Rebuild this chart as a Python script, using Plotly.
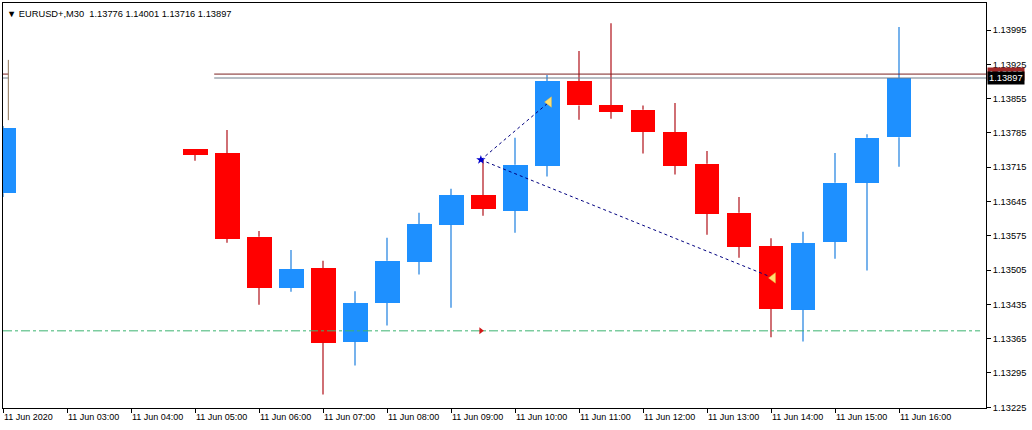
import plotly.graph_objects as go
from datetime import datetime, timedelta

# ---------------- data ----------------
TIMES = ["2020-06-11 02:00", "2020-06-11 05:00", "2020-06-11 05:30", "2020-06-11 06:00",
         "2020-06-11 06:30", "2020-06-11 07:00", "2020-06-11 07:30", "2020-06-11 08:00",
         "2020-06-11 08:30", "2020-06-11 09:00", "2020-06-11 09:30", "2020-06-11 10:00",
         "2020-06-11 10:30", "2020-06-11 11:00", "2020-06-11 11:30", "2020-06-11 12:00",
         "2020-06-11 12:30", "2020-06-11 13:00", "2020-06-11 13:30", "2020-06-11 14:00",
         "2020-06-11 14:30", "2020-06-11 15:00", "2020-06-11 15:30", "2020-06-11 16:00"]
OPEN = [1.13662, 1.13752, 1.13743, 1.13573, 1.13469, 1.13509, 1.13359, 1.13438,
        1.13522, 1.13598, 1.13658, 1.13626, 1.13718, 1.13891, 1.13842, 1.13832,
        1.13787, 1.13722, 1.13622, 1.13554, 1.13424, 1.13563, 1.13683, 1.13776]
HIGH = [1.13799, 1.13752, 1.13791, 1.13585, 1.13546, 1.13524, 1.13462, 1.13571,
        1.13622, 1.13671, 1.13730, 1.13775, 1.13903, 1.13952, 1.14009, 1.13841,
        1.13846, 1.13748, 1.13654, 1.13570, 1.13583, 1.13744, 1.13782, 1.14001]
LOW = [1.13654, 1.13728, 1.13561, 1.13434, 1.13461, 1.13251, 1.13310, 1.13392,
       1.13496, 1.13428, 1.13616, 1.13581, 1.13696, 1.13812, 1.13814, 1.13743,
       1.13700, 1.13577, 1.13530, 1.13368, 1.13359, 1.13528, 1.13504, 1.13716]
CLOSE = [1.13795, 1.13740, 1.13569, 1.13469, 1.13507, 1.13357, 1.13438, 1.13524,
         1.13599, 1.13658, 1.13630, 1.13720, 1.13891, 1.13841, 1.13828, 1.13787,
         1.13718, 1.13620, 1.13553, 1.13426, 1.13560, 1.13683, 1.13775, 1.13897]

TICK_TIMES = ["2020-06-11 02:00", "2020-06-11 03:00", "2020-06-11 04:00", "2020-06-11 05:00",
              "2020-06-11 06:00", "2020-06-11 07:00", "2020-06-11 08:00", "2020-06-11 09:00",
              "2020-06-11 10:00", "2020-06-11 11:00", "2020-06-11 12:00", "2020-06-11 13:00",
              "2020-06-11 14:00", "2020-06-11 15:00", "2020-06-11 16:00"]
TICK_TEXT = ["11 Jun 2020", "11 Jun 03:00", "11 Jun 04:00", "11 Jun 05:00", "11 Jun 06:00",
             "11 Jun 07:00", "11 Jun 08:00", "11 Jun 09:00", "11 Jun 10:00", "11 Jun 11:00",
             "11 Jun 12:00", "11 Jun 13:00", "11 Jun 14:00", "11 Jun 15:00", "11 Jun 16:00"]
PRICE_TICKS = [1.13225, 1.13295, 1.13365, 1.13435, 1.13505, 1.13575, 1.13645,
               1.13715, 1.13785, 1.13855, 1.13925, 1.13995]

BID = 1.13897
ASK = 1.13905
SUPPORT = 1.13381
PIVOT_TIME = "2020-06-11 09:28"
PIVOT_PRICE = 1.13730
TRI_TIMES = ["2020-06-11 10:32", "2020-06-11 14:02"]
TRI_PRICES = [1.13848, 1.13489]
HEADER = "EURUSD+,M30  1.13776 1.14001 1.13716 1.13897"

X_START = "2020-06-11 02:00"
X_END = "2020-06-11 17:21:34"
LINE_START = "2020-06-11 05:18"
Y_MIN, Y_MAX = 1.132235, 1.140501

# ---------------- styles ----------------
BULL = "#1E90FF"
BEAR = "#FF0000"
BULL_WICK = "#1C7FE0"
BEAR_WICK = "#B01018"
BODY_MS = 1_406_000  # body width in ms (25/32 of 30 min)
FONT = "Liberation Sans, Arial, sans-serif"

fig = go.Figure()

# wicks (split into upper/lower so they do not draw over bodies)
def wick_xy(filter_bull):
    xs, ys = [], []
    for t, o, h, l, c in zip(TIMES, OPEN, HIGH, LOW, CLOSE):
        if (c >= o) != filter_bull:
            continue
        top, bot = max(o, c), min(o, c)
        if h > top:
            xs += [t, t, None]; ys += [top, h, None]
        if l < bot:
            xs += [t, t, None]; ys += [bot, l, None]
    return xs, ys

for bull, col in ((True, BULL_WICK), (False, BEAR_WICK)):
    wx, wy = wick_xy(bull)
    fig.add_trace(go.Scatter(x=wx, y=wy, mode="lines", line=dict(color=col, width=1.2),
                             hoverinfo="skip", showlegend=False))

# bodies
for bull, col in ((True, BULL), (False, BEAR)):
    bx, bb, bh = [], [], []
    for t, o, c in zip(TIMES, OPEN, CLOSE):
        if (c >= o) != bull:
            continue
        bx.append(t); bb.append(min(o, c)); bh.append(abs(c - o))
    fig.add_trace(go.Bar(x=bx, y=bh, base=bb, width=BODY_MS, marker=dict(color=col, line=dict(width=0)),
                         hoverinfo="skip", showlegend=False))

# horizontal price lines
t0 = datetime.strptime(X_START, "%Y-%m-%d %H:%M")
left_seg_end = (t0 + timedelta(minutes=5)).strftime("%Y-%m-%d %H:%M")
for price, col in ((ASK, "#7A2222"), (BID, "#6F7D8A")):
    fig.add_trace(go.Scatter(x=[X_START, left_seg_end, None, LINE_START, X_END],
                             y=[price, price, None, price, price], mode="lines",
                             line=dict(color=col, width=1), hoverinfo="skip", showlegend=False))

# left edge remnant vertical line
fig.add_trace(go.Scatter(x=["2020-06-11 02:05", "2020-06-11 02:05"], y=[1.13934, 1.13811], mode="lines",
                         line=dict(color="#8C7458", width=1), hoverinfo="skip", showlegend=False))

# support dash-dot line
fig.add_trace(go.Scatter(x=[X_START, "2020-06-11 17:16"], y=[SUPPORT, SUPPORT], mode="lines",
                         line=dict(color="#3CB371", width=1, dash="dashdot"),
                         hoverinfo="skip", showlegend=False))

# dotted lines from pivot
for tt, tp in zip(TRI_TIMES, TRI_PRICES):
    fig.add_trace(go.Scatter(x=[PIVOT_TIME, tt], y=[PIVOT_PRICE, tp], mode="lines",
                             line=dict(color="#000080", width=1, dash="dot"),
                             hoverinfo="skip", showlegend=False))

# markers
fig.add_trace(go.Scatter(x=TRI_TIMES, y=TRI_PRICES, mode="markers",
                         marker=dict(symbol="triangle-left", size=9, color="#FFE070",
                                     line=dict(color="#F0C040", width=0.5)),
                         hoverinfo="skip", showlegend=False))
fig.add_trace(go.Scatter(x=[PIVOT_TIME], y=[PIVOT_PRICE], mode="markers",
                         marker=dict(symbol="star", size=7, color="#0000CD"),
                         hoverinfo="skip", showlegend=False))
fig.add_trace(go.Scatter(x=[PIVOT_TIME], y=[SUPPORT], mode="markers",
                         marker=dict(symbol="triangle-right", size=6, color="#D01818"),
                         hoverinfo="skip", showlegend=False))

fig.update_layout(
    width=1032, height=430,
    margin=dict(l=3, r=46, t=3, b=22),
    paper_bgcolor="white", plot_bgcolor="white",
    font=dict(family=FONT, size=9, color="black"),
    barmode="overlay", bargap=0,
    showlegend=False,
    hovermode=False,
    xaxis=dict(type="date", range=[X_START, X_END], showgrid=False, zeroline=False,
               showline=True, linecolor="black", linewidth=1, mirror=True,
               tickmode="array", tickvals=TICK_TIMES, ticktext=TICK_TEXT,
               ticks="outside", ticklen=4, tickcolor="black",
               ticklabelposition="outside right",
               tickfont=dict(family=FONT, size=9, color="black")),
    yaxis=dict(range=[Y_MIN, Y_MAX], side="right", showgrid=False, zeroline=False,
               showline=True, linecolor="black", linewidth=1, mirror=True,
               tickmode="array", tickvals=PRICE_TICKS,
               ticktext=[f"{p:.5f}" for p in PRICE_TICKS],
               ticks="outside", ticklen=4, tickcolor="black",
               tickfont=dict(family=FONT, size=9.3, color="black")),
)

# header
fig.add_annotation(xref="paper", yref="paper", x=0.0, y=1.0, xanchor="left", yanchor="top",
                   xshift=2, yshift=-4, showarrow=False, align="left",
                   text="\u25BC " + HEADER, font=dict(family=FONT, size=9.3, color="black"))

# price labels on right axis
for price, bg in ((ASK, "#A02828"), (BID, "#000000")):
    fig.add_annotation(xref="paper", yref="y", x=1.0, y=price, xanchor="left", yanchor="middle",
                       showarrow=False, text=f"{price:.5f}", bgcolor=bg,
                       font=dict(family=FONT, size=9.3, color="white"),
                       borderpad=1, xshift=1)

fig.write_html("out.html", config={"displayModeBar": False, "staticPlot": True},
               post_script="document.body.style.margin='0';document.body.style.padding='0';")
